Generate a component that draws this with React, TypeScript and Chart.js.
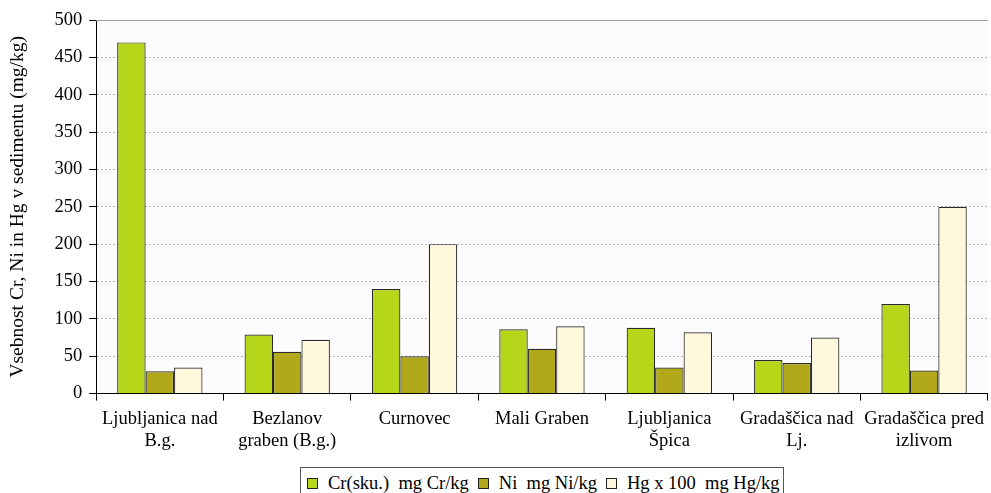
import React, { useEffect, useRef } from "react";
import { Chart, registerables } from "chart.js";

Chart.register(...registerables);

const categories: string[][] = [
  ["Ljubljanica nad", "B.g."],
  ["Bezlanov", "graben (B.g.)"],
  ["Curnovec"],
  ["Mali Graben"],
  ["Ljubljanica", "Špica"],
  ["Gradaščica nad", "Lj."],
  ["Gradaščica pred", "izlivom"],
];
const crValues = [470, 79, 140, 86, 88, 45, 120];
const niValues = [30, 56, 50, 60, 35, 41, 31];
const hgValues = [35, 72, 200, 90, 82, 75, 250];
const seriesLabels = ["Cr(sku.)  mg Cr/kg", "Ni  mg Ni/kg", "Hg x 100  mg Hg/kg"];
const seriesColors = ["#B5D619", "#B2A91A", "#FEF8DC"];
const yTitle = "Vsebnost Cr, Ni in Hg v sedimentu (mg/kg)";

const FONT = "'Liberation Serif', 'Times New Roman', serif";

const plotDecor = {
  id: "plotDecor",
  beforeDraw(chart: any) {
    const { ctx, chartArea } = chart;
    ctx.save();
    ctx.fillStyle = "#FCFCFE";
    ctx.fillRect(chartArea.left, chartArea.top, chartArea.right - chartArea.left, chartArea.bottom - chartArea.top);
    ctx.restore();
  },
  afterDatasetsDraw(chart: any) {
    const { ctx, chartArea } = chart;
    ctx.save();
    ctx.strokeStyle = "#A0A0A0";
    ctx.lineWidth = 1;
    ctx.beginPath();
    ctx.moveTo(chartArea.left, chartArea.top + 0.5);
    ctx.lineTo(chartArea.right, chartArea.top + 0.5);
    ctx.stroke();
    ctx.restore();
  },
};

export default function App() {
  const ref = useRef<HTMLCanvasElement | null>(null);
  useEffect(() => {
    if (!ref.current) return;
    const chart = new Chart(ref.current, {
      type: "bar",
      data: {
        labels: categories,
        datasets: [crValues, niValues, hgValues].map((d, i) => ({
          label: seriesLabels[i],
          data: d,
          backgroundColor: seriesColors[i],
          borderColor: "#2A2A2A",
          borderWidth: 1.2,
          barPercentage: 1,
          categoryPercentage: 0.67,
        })),
      },
      options: {
        animation: false,
        responsive: false,
        maintainAspectRatio: false,
        layout: { padding: { top: 20, right: 1, bottom: 34, left: 6 } },
        plugins: {
          legend: { display: false },
          tooltip: { enabled: false },
        },
        scales: {
          x: {
            offset: true,
            grid: { offset: true, drawOnChartArea: false, tickColor: "#000", tickLength: 7 },
            border: { color: "#000", width: 1 },
            ticks: { color: "#000", font: { family: FONT, size: 18.5 }, maxRotation: 0, autoSkip: false, padding: 7 },
          },
          y: {
            min: 0,
            max: 500,
            ticks: { stepSize: 50, color: "#000", font: { family: FONT, size: 18.5 }, padding: 7 },
            grid: { color: "#B4B4B4", tickColor: "#000", tickLength: 7, lineWidth: 1 },
            border: { color: "#000", width: 1, dash: [2, 2] },
            title: { display: true, text: yTitle, color: "#000", font: { family: FONT, size: 19.5 }, padding: { top: 0, bottom: 18 } },
          },
        },
      },
      plugins: [plotDecor],
    });
    return () => chart.destroy();
  }, []);

  return (
    <div style={{ position: "fixed", left: 0, top: 0, width: 991, height: 493, background: "#fff" }}>
      <canvas ref={ref} width={991} height={493} style={{ width: 991, height: 493, display: "block" }} />
      <div
        style={{
          position: "absolute",
          left: 300,
          top: 467,
          width: 484,
          height: 36,
          border: "1px solid #555",
          boxSizing: "border-box",
          display: "flex",
          alignItems: "flex-start",
          justifyContent: "flex-start",
          paddingLeft: 6,
          paddingTop: 4,
          fontFamily: FONT,
          fontSize: 18.5,
          lineHeight: "22px",
          color: "#000",
          whiteSpace: "pre",
          background: "#fff",
        }}
      >
        {seriesLabels.map((l, i) => (
          <span key={i} style={{ display: "inline-flex", alignItems: "center", marginRight: i < 2 ? 9 : 0 }}>
            <span
              style={{
                display: "inline-block",
                width: 11,
                height: 11,
                boxSizing: "border-box",
                background: seriesColors[i],
                border: "1px solid #222",
                marginRight: 10,
              }}
            />
            {l}
          </span>
        ))}
      </div>
    </div>
  );
}
